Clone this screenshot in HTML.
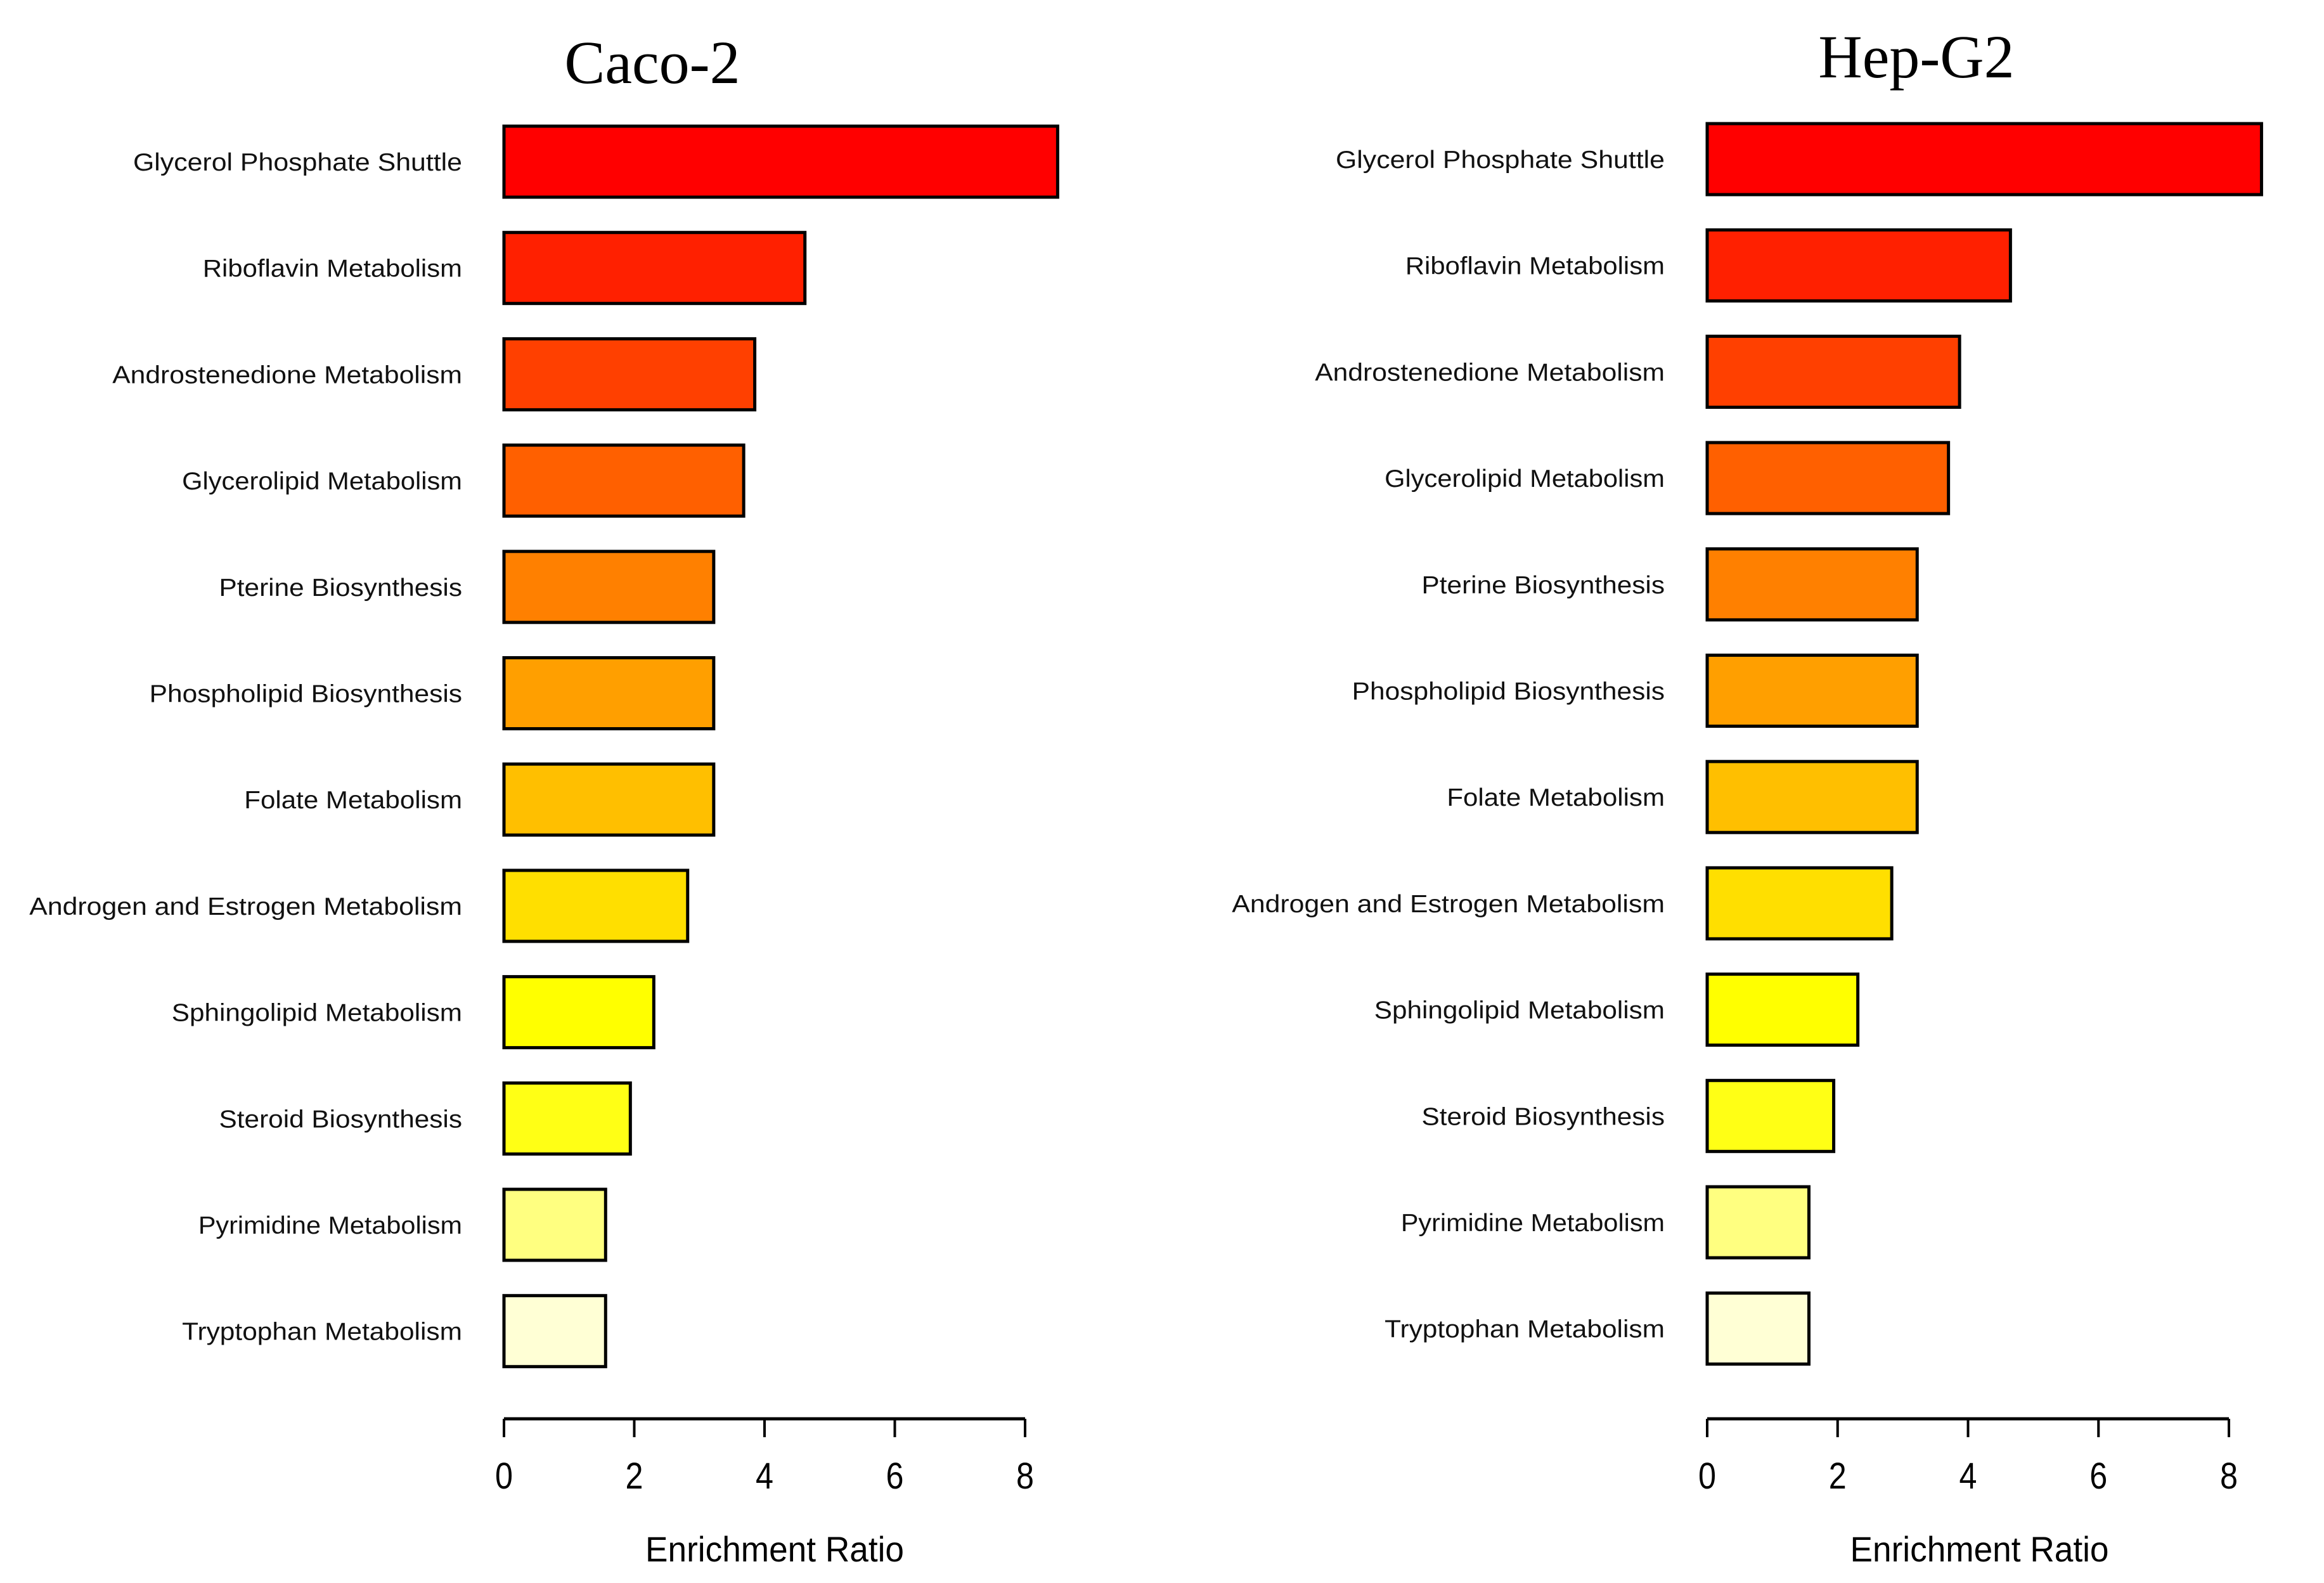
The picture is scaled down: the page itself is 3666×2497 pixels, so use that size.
<!DOCTYPE html>
<html><head><meta charset="utf-8"><style>
html,body{margin:0;padding:0;background:#fff}
svg{display:block}
</style></head><body>
<svg id="chart" width="3666" height="2497" viewBox="0 0 3666 2497" xmlns="http://www.w3.org/2000/svg"></svg>
<script>
const categories = ["Glycerol Phosphate Shuttle","Riboflavin Metabolism","Androstenedione Metabolism","Glycerolipid Metabolism","Pterine Biosynthesis","Phospholipid Biosynthesis","Folate Metabolism","Androgen and Estrogen Metabolism","Sphingolipid Metabolism","Steroid Biosynthesis","Pyrimidine Metabolism","Tryptophan Metabolism"];
const cacoValues = [8.5,4.62,3.85,3.68,3.22,3.22,3.22,2.82,2.3,1.94,1.56,1.56];
const hepValues = [8.5,4.65,3.87,3.7,3.22,3.22,3.22,2.83,2.31,1.94,1.56,1.56];
const tickLabels = [0,2,4,6,8];
const colors = ["#FF0000","#FF2000","#FF4000","#FF6000","#FF8000","#FF9F00","#FFBF00","#FFDF00","#FFFF00","#FFFF15","#FFFF80","#FFFFD5"];
const labelStartsDisplay = [90,137,76,123,148,101,165,20,116,148,134,123];

const svg = document.getElementById('chart');
const NS = 'http://www.w3.org/2000/svg';
function mk(tag, attrs){const e=document.createElementNS(NS,tag);for(const k in attrs)e.setAttribute(k,attrs[k]);svg.appendChild(e);return e;}

function panel(name, title, values, x0, x8, labelRight, dy, titleX, titleY, axTitleShift){
  const unit=(x8-x0)/8;
  const xs=v=>x0+v*unit;
  const yTop=i=>199+dy+i*167.7;
  const barH=112;
  const t=mk('text',{x:titleX,y:titleY,'text-anchor':'middle','font-family':'Liberation Serif, serif','font-size':96,fill:'#000'});
  t.textContent=title;
  
  
  values.forEach((v,i)=>{
    const r=mk('rect',{x:xs(0),y:yTop(i),width:xs(v)-xs(0),height:barH,fill:colors[i],stroke:'#000','stroke-width':5});
    
    
    const w=(312-labelStartsDisplay[i])*2.338;
    const l=mk('text',{x:labelRight,y:yTop(i)+barH/2+14,'text-anchor':'end','font-family':'Liberation Sans, sans-serif','font-size':39,fill:'#111',textLength:w,lengthAdjust:'spacingAndGlyphs'});
    l.textContent=categories[i];
    
    
  });
  const axY=2238;
  const ax=mk('line',{x1:xs(0),y1:axY,x2:xs(8),y2:axY,stroke:'#000','stroke-width':5});
  
  
  tickLabels.forEach(tv=>{
    const tk=mk('line',{x1:xs(tv),y1:axY,x2:xs(tv),y2:2267,stroke:'#000','stroke-width':4});
    
    
    const tl=mk('text',{x:xs(tv),y:2348,'text-anchor':'middle','font-family':'Liberation Sans, sans-serif','font-size':58,fill:'#000',textLength:28,lengthAdjust:'spacingAndGlyphs'});
    tl.textContent=tv;
    
    
  });
  const at=mk('text',{x:(xs(0)+xs(8))/2+axTitleShift,y:2463,'text-anchor':'middle','font-family':'Liberation Sans, sans-serif','font-size':56,fill:'#000',textLength:408,lengthAdjust:'spacingAndGlyphs'});
  at.textContent='Enrichment Ratio';
  
  
}
panel('caco2','Caco-2',cacoValues,795,1617,729,0,1029,131,16);
panel('hepg2','Hep-G2',hepValues,2693,3516,2626,-4,3023,122,18);
</script>
</body></html>
